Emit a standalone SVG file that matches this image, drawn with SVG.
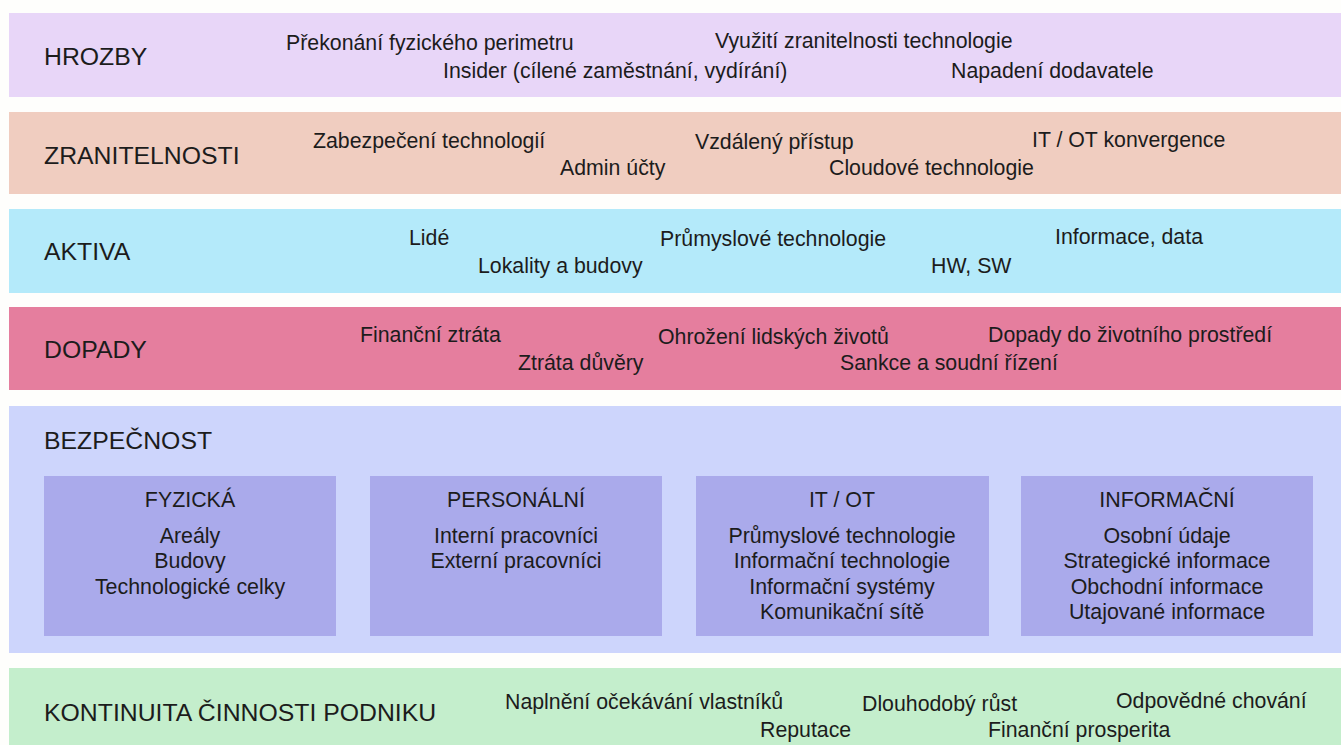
<svg xmlns="http://www.w3.org/2000/svg" width="1341" height="745" viewBox="0 0 1341 745">
  <style>
    text { font-family: "Liberation Sans", Arial, sans-serif; fill: #1c1c1c; }
    .lbl { font-size: 24.8px; }
    .itm { font-size: 21.3px; }
    .sub { font-size: 21.4px; text-anchor: middle; }
    .box { fill: #aaaaeb; }
  </style>
  <rect width="1341" height="745" fill="#fefefc"/>

  <g id="hrozby">
    <rect x="9" y="13" width="1332" height="84" fill="#e8d6f8"/>
    <text class="lbl" x="44" y="65">HROZBY</text>
    <text class="itm" x="286" y="50">Překonání fyzického perimetru</text>
    <text class="itm" x="715" y="48">Využití zranitelnosti technologie</text>
    <text class="itm" x="443" y="78">Insider (cílené zaměstnání, vydírání)</text>
    <text class="itm" x="951" y="78">Napadení dodavatele</text>
  </g>

  <g id="zranitelnosti">
    <rect x="9" y="112" width="1332" height="82" fill="#f0cdc0"/>
    <text class="lbl" x="44" y="164">ZRANITELNOSTI</text>
    <text class="itm" x="313" y="148">Zabezpečení technologií</text>
    <text class="itm" x="695" y="149">Vzdálený přístup</text>
    <text class="itm" x="1032" y="147">IT / OT konvergence</text>
    <text class="itm" x="560" y="175">Admin účty</text>
    <text class="itm" x="829" y="175">Cloudové technologie</text>
  </g>

  <g id="aktiva">
    <rect x="9" y="209" width="1332" height="84" fill="#b4eafa"/>
    <text class="lbl" x="44" y="260">AKTIVA</text>
    <text class="itm" x="409" y="245">Lidé</text>
    <text class="itm" x="660" y="246">Průmyslové technologie</text>
    <text class="itm" x="1055" y="244">Informace, data</text>
    <text class="itm" x="478" y="273">Lokality a budovy</text>
    <text class="itm" x="931" y="273">HW, SW</text>
  </g>

  <g id="dopady">
    <rect x="9" y="307" width="1332" height="83" fill="#e57e9e"/>
    <text class="lbl" x="44" y="358">DOPADY</text>
    <text class="itm" x="360" y="342">Finanční ztráta</text>
    <text class="itm" x="658" y="344">Ohrožení lidských životů</text>
    <text class="itm" x="988" y="342">Dopady do životního prostředí</text>
    <text class="itm" x="518" y="370">Ztráta důvěry</text>
    <text class="itm" x="840" y="370">Sankce a soudní řízení</text>
  </g>

  <g id="bezpecnost">
    <rect x="9" y="406" width="1332" height="247" fill="#cdd5fc"/>
    <text class="lbl" x="44" y="449">BEZPEČNOST</text>
  </g>

  <g id="fyzicka">
    <rect class="box" x="44" y="476" width="292" height="160"/>
    <text class="sub" x="190" y="507">FYZICKÁ</text>
    <text class="sub" x="190" y="543">Areály</text>
    <text class="sub" x="190" y="568">Budovy</text>
    <text class="sub" x="190" y="594">Technologické celky</text>
  </g>

  <g id="personalni">
    <rect class="box" x="370" y="476" width="292" height="160"/>
    <text class="sub" x="516" y="507">PERSONÁLNÍ</text>
    <text class="sub" x="516" y="543">Interní pracovníci</text>
    <text class="sub" x="516" y="568">Externí pracovníci</text>
  </g>

  <g id="it-ot">
    <rect class="box" x="696" y="476" width="293" height="160"/>
    <text class="sub" x="842" y="507">IT / OT</text>
    <text class="sub" x="842" y="543">Průmyslové technologie</text>
    <text class="sub" x="842" y="568">Informační technologie</text>
    <text class="sub" x="842" y="594">Informační systémy</text>
    <text class="sub" x="842" y="619">Komunikační sítě</text>
  </g>

  <g id="informacni">
    <rect class="box" x="1021" y="476" width="292" height="160"/>
    <text class="sub" x="1167" y="507">INFORMAČNÍ</text>
    <text class="sub" x="1167" y="543">Osobní údaje</text>
    <text class="sub" x="1167" y="568">Strategické informace</text>
    <text class="sub" x="1167" y="594">Obchodní informace</text>
    <text class="sub" x="1167" y="619">Utajované informace</text>
  </g>

  <g id="kontinuita">
    <rect x="9" y="668" width="1332" height="77" fill="#c4eecc"/>
    <text class="lbl" x="44" y="721">KONTINUITA ČINNOSTI PODNIKU</text>
    <text class="itm" x="505" y="709">Naplnění očekávání vlastníků</text>
    <text class="itm" x="862" y="711">Dlouhodobý růst</text>
    <text class="itm" x="1116" y="708">Odpovědné chování</text>
    <text class="itm" x="760" y="737">Reputace</text>
    <text class="itm" x="988" y="737">Finanční prosperita</text>
  </g>

  <g id="connectors"/>
</svg>
